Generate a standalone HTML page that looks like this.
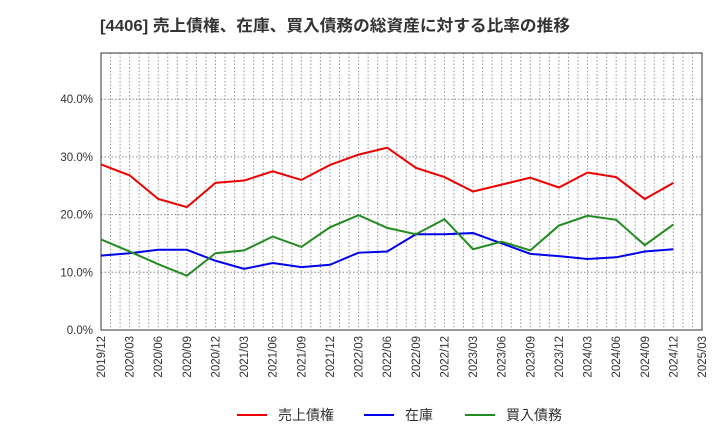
<!DOCTYPE html>
<html><head><meta charset="utf-8"><style>
body{margin:0;background:#fff;font-family:"Liberation Sans","Noto Sans CJK JP",sans-serif}
</style></head><body>
<svg id="c" width="720" height="440" xmlns="http://www.w3.org/2000/svg">
<text x="100" y="31" font-size="16" font-weight="bold" fill="#333" textLength="470" lengthAdjust="spacingAndGlyphs" font-family="Liberation Sans, Noto Sans CJK JP, sans-serif">[4406]  売上債権、在庫、買入債務の総資産に対する比率の推移</text>
</svg>
<script>
const categories=["2019/12","2020/03","2020/06","2020/09","2020/12","2021/03","2021/06","2021/09","2021/12","2022/03","2022/06","2022/09","2022/12","2023/03","2023/06","2023/09","2023/12","2024/03","2024/06","2024/09","2024/12","2025/03"];
const receivables=[28.7,26.8,22.7,21.3,25.5,25.9,27.5,26.0,28.6,30.4,31.6,28.1,26.5,24.0,25.2,26.4,24.7,27.3,26.5,22.7,25.5];
const inventory=[12.9,13.3,13.9,13.9,12.0,10.6,11.6,10.9,11.3,13.4,13.6,16.6,16.6,16.8,15.0,13.2,12.8,12.3,12.6,13.6,14.0];
const payables=[15.7,13.6,11.4,9.4,13.3,13.8,16.2,14.4,17.8,19.9,17.7,16.6,19.2,14.0,15.3,13.8,18.1,19.8,19.1,14.7,18.3];
const yTicks=[0,10,20,30,40];
const yTickLabels=["0.0%","10.0%","20.0%","30.0%","40.0%"];
const seriesNames=["売上債権","在庫","買入債務"];
const seriesColors=["#ee0000","#0000ee","#228b22"];
const NS="http://www.w3.org/2000/svg";
const svg=document.getElementById('c');
const L=101,R=702,T=53,B=330;
const x=i=>L+i*(R-L)/(categories.length-1);
const y=v=>B-v*5.77;
function mk(t,a){const e=document.createElementNS(NS,t);for(const k in a)e.setAttribute(k,a[k]);svg.appendChild(e);return e;}
for(let m=1;m<(categories.length-1)*3;m++){
 const gx=L+m*(R-L)/((categories.length-1)*3);
 const g=mk('line',{x1:gx,x2:gx,y1:T,y2:B,stroke:'#999','stroke-dasharray':'1.5,2','stroke-width':1});
 
 
}
yTicks.forEach((t,i)=>{
 if(t>0){const g=mk('line',{x1:L,x2:R,y1:y(t),y2:y(t),stroke:'#888','stroke-dasharray':'1.5,2'});
 
 }
 const tx=mk('text',{x:L-8,y:y(t)+4,'text-anchor':'end','font-size':11.5,fill:'#333'});
 tx.textContent=yTickLabels[i];
 
 
});
const fr=mk('rect',{x:L,y:T,width:R-L,height:B-T,fill:'none',stroke:'#333','stroke-width':1});


categories.forEach((c,i)=>{
 const tx=mk('text',{transform:`translate(${x(i)+4},${B+6}) rotate(-90)`,'text-anchor':'end','font-size':11.5,fill:'#333'});
 tx.textContent=c;
 
 
});
[receivables,inventory,payables].forEach((d,s)=>{
 const p=mk('polyline',{points:d.map((v,i)=>x(i)+','+y(v)).join(' '),fill:'none',stroke:seriesColors[s],'stroke-width':2});
 
 
});
const lx=[237,364,465];
seriesNames.forEach((n,s)=>{
 const l=mk('line',{x1:lx[s],x2:lx[s]+30,y1:415,y2:415,stroke:seriesColors[s],'stroke-width':2});
 
 
 const t=mk('text',{x:lx[s]+41,y:420,'font-size':14,fill:'#333'});
 t.textContent=n;
 
 
});
</script>
</body></html>
